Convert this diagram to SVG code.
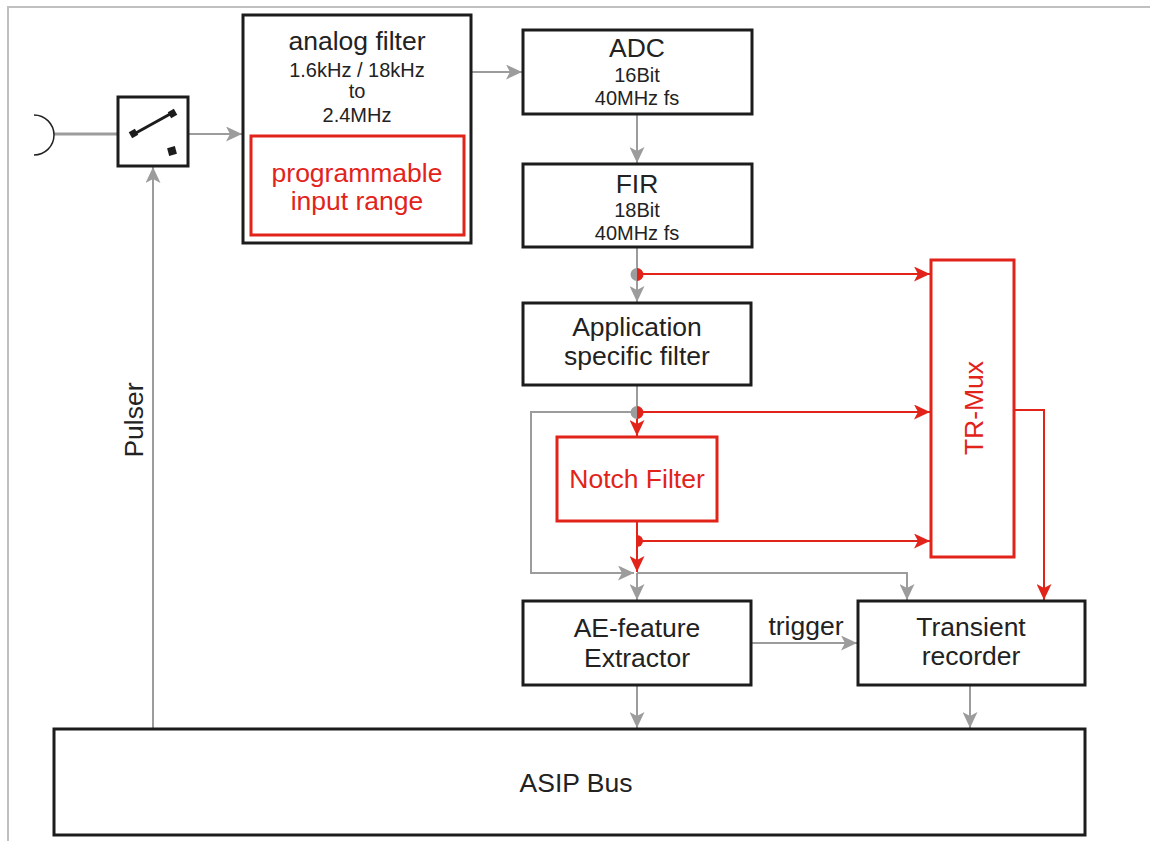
<svg xmlns="http://www.w3.org/2000/svg" width="1150" height="841" viewBox="0 0 1150 841">
<style>
.box{fill:#fff;stroke:#1c1c1c;stroke-width:3}
.rbox{fill:#fff;stroke:#e2231a;stroke-width:3}
.t{font-family:"Liberation Sans",Arial,sans-serif;font-size:26.5px;fill:#222;text-anchor:middle}
.s{font-family:"Liberation Sans",Arial,sans-serif;font-size:20px;fill:#222;text-anchor:middle}
.r{fill:#e2231a}
.g{fill:none;stroke:#9c9c9c;stroke-width:2}
.rl{fill:none;stroke:#e2231a;stroke-width:2}
</style>
<defs>
<marker id="ag" markerUnits="userSpaceOnUse" markerWidth="17" markerHeight="15" refX="16" refY="7.5" orient="auto"><path d="M0,0 L16,7.5 L0,15 L4,7.5 Z" fill="#9c9c9c"/></marker>
<marker id="ar" markerUnits="userSpaceOnUse" markerWidth="17" markerHeight="15" refX="16" refY="7.5" orient="auto"><path d="M0,0 L16,7.5 L0,15 L4,7.5 Z" fill="#e2231a"/></marker>
</defs>
<rect width="1150" height="841" fill="#fff"/>
<path d="M8,841 V7 H1150" fill="none" stroke="#c0c0c0" stroke-width="2"/>

<g id="connectors">
<line x1="54" y1="134" x2="118" y2="134" stroke="#9c9c9c" stroke-width="3"/>
<line class="g" x1="188" y1="134" x2="242" y2="134" marker-end="url(#ag)"/>
<line class="g" x1="471" y1="72" x2="522" y2="72" marker-end="url(#ag)"/>
<line class="g" x1="637" y1="114" x2="637" y2="163" marker-end="url(#ag)"/>
<line class="g" x1="637" y1="247" x2="637" y2="302" marker-end="url(#ag)"/>
<line class="g" x1="637" y1="385" x2="637" y2="412"/>
<line class="rl" x1="637" y1="274" x2="930" y2="274" marker-end="url(#ar)"/>
<line class="rl" x1="637" y1="412" x2="930" y2="412" marker-end="url(#ar)"/>
<line class="rl" x1="637" y1="412" x2="637" y2="436" marker-end="url(#ar)"/>
<line class="rl" x1="637" y1="521" x2="637" y2="572" marker-end="url(#ar)"/>
<line class="rl" x1="637" y1="541" x2="930" y2="541" marker-end="url(#ar)"/>
<path class="rl" d="M1014,410 H1044 V600" marker-end="url(#ar)"/>
<path class="g" d="M637,412 H531 V573 H634" marker-end="url(#ag)"/>
<path class="g" d="M637,573 H907 V600" marker-end="url(#ag)"/>
<line class="g" x1="637" y1="573" x2="637" y2="600" marker-end="url(#ag)"/>
<line class="g" x1="750" y1="643" x2="857" y2="643" marker-end="url(#ag)"/>
<line class="g" x1="637" y1="685" x2="637" y2="728" marker-end="url(#ag)"/>
<line class="g" x1="970" y1="685" x2="970" y2="728" marker-end="url(#ag)"/>
<line class="g" x1="153" y1="729" x2="153" y2="167" marker-end="url(#ag)"/>
<path d="M637,268 A6.5,6.5 0 0 0 637,281 Z" fill="#9c9c9c"/>
<path d="M637,268 A6.5,6.5 0 0 1 637,281 Z" fill="#e2231a"/>
<path d="M637,406 A6.5,6.5 0 0 0 637,419 Z" fill="#9c9c9c"/>
<path d="M637,406 A6.5,6.5 0 0 1 637,419 Z" fill="#e2231a"/>
<path d="M637,535 A6,6 0 0 1 637,547 Z" fill="#e2231a"/>
<text class="t" x="806" y="635">trigger</text>
<text class="t" transform="translate(143,420) rotate(-90)">Pulser</text>
</g>

<g id="input">
<path d="M34,115 A20,20 0 0 1 34,155" fill="none" stroke="#222" stroke-width="1.5"/>
</g>

<g id="switch">
<rect class="box" x="118" y="97" width="70" height="69"/>
<line x1="134" y1="134" x2="172" y2="113" stroke="#1c1c1c" stroke-width="3"/>
<rect x="130" y="130" width="7" height="7" fill="#1c1c1c" transform="rotate(-29 133.5 133.5)"/>
<rect x="169" y="110" width="7" height="7" fill="#1c1c1c" transform="rotate(-29 172.5 113.5)"/>
<rect x="168" y="147" width="8" height="8" fill="#1c1c1c" transform="rotate(-15 172 151)"/>
</g>

<g id="analog-filter">
<rect class="box" x="243" y="15" width="228" height="228" stroke-width="4"/>
<text class="t" x="357" y="50">analog filter</text>
<text class="s" x="357" y="77">1.6kHz / 18kHz</text>
<text class="s" x="357" y="98">to</text>
<text class="s" x="357" y="122">2.4MHz</text>
<rect class="rbox" x="251" y="136" width="213" height="99"/>
<text class="t r" x="357" y="182">programmable</text>
<text class="t r" x="357" y="210">input range</text>
</g>

<g id="adc">
<rect class="box" x="523" y="30" width="229" height="84"/>
<text class="t" x="637" y="57">ADC</text>
<text class="s" x="637" y="82">16Bit</text>
<text class="s" x="637" y="105">40MHz fs</text>
</g>

<g id="fir">
<rect class="box" x="523" y="164" width="229" height="83"/>
<text class="t" x="637" y="193">FIR</text>
<text class="s" x="637" y="217">18Bit</text>
<text class="s" x="637" y="240">40MHz fs</text>
</g>

<g id="app-filter">
<rect class="box" x="523" y="303" width="228" height="82"/>
<text class="t" x="637" y="336">Application</text>
<text class="t" x="637" y="365">specific filter</text>
</g>

<g id="notch">
<rect class="rbox" x="557" y="437" width="160" height="84"/>
<text class="t r" x="637" y="488">Notch Filter</text>
</g>

<g id="tr-mux">
<rect class="rbox" x="931" y="260" width="83" height="297"/>
<text class="t r" transform="translate(983,408) rotate(-90)">TR-Mux</text>
</g>

<g id="ae-extractor">
<rect class="box" x="523" y="601" width="228" height="84"/>
<text class="t" x="637" y="637">AE-feature</text>
<text class="t" x="637" y="667">Extractor</text>
</g>

<g id="transient">
<rect class="box" x="858" y="601" width="227" height="84"/>
<text class="t" x="971" y="636">Transient</text>
<text class="t" x="971" y="665">recorder</text>
</g>

<g id="asip-bus">
<rect class="box" x="54" y="729" width="1031" height="106"/>
<text class="t" x="576" y="792">ASIP Bus</text>
</g>
</svg>
